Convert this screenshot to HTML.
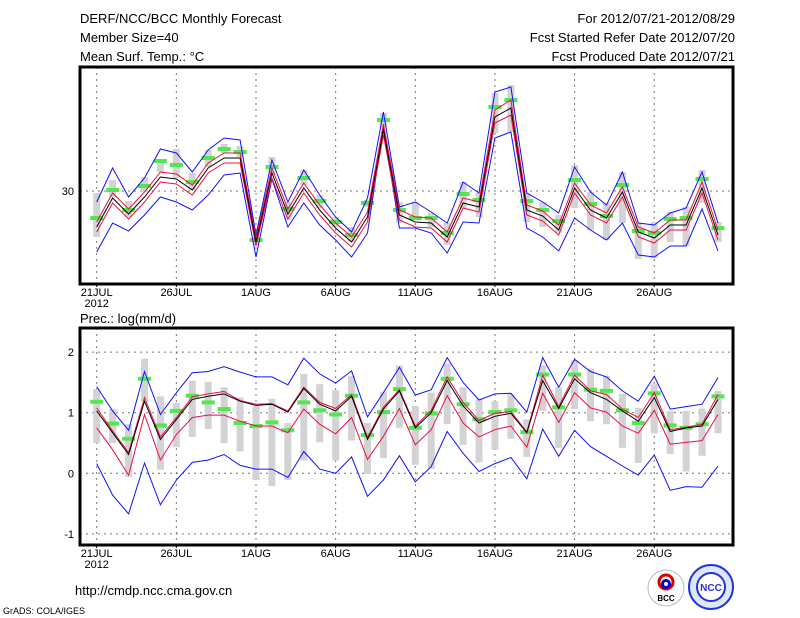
<!DOCTYPE html>
<html><head><meta charset="utf-8"><style>
body{margin:0;background:#fff;}
svg text{font-family:"Liberation Sans",sans-serif;}
</style></head><body>
<svg id="chart" width="800" height="618" xmlns="http://www.w3.org/2000/svg" style="display:block">
<rect width="800" height="618" fill="#fff"/>
<g font-size="13" fill="#000">
<text x="80" y="23">DERF/NCC/BCC Monthly Forecast</text>
<text x="80" y="42">Member Size=40</text>
<text x="80" y="61">Mean Surf. Temp.: °C</text>
<text x="735" y="23" text-anchor="end">For 2012/07/21-2012/08/29</text>
<text x="735" y="42" text-anchor="end">Fcst Started Refer Date 2012/07/20</text>
<text x="735" y="61" text-anchor="end">Fcst Produced Date 2012/07/21</text>
<text x="80" y="323">Prec.: log(mm/d)</text>
<text x="75" y="595">http://cmdp.ncc.cma.gov.cn</text>
</g>
<text x="3" y="614" font-size="9">GrADS: COLA/IGES</text>
<g>
<circle cx="666" cy="588" r="18" fill="#fff" stroke="#bbb"/>
<circle cx="666" cy="582" r="7" fill="none" stroke="#d00" stroke-width="3"/>
<circle cx="666" cy="584" r="3.5" fill="none" stroke="#00c" stroke-width="3"/>
<text x="666" y="601" font-size="8" text-anchor="middle" font-family="Liberation Serif" font-weight="bold">BCC</text>
</g>
<g>
<circle cx="711" cy="587" r="22" fill="#dde8ff" stroke="#2233dd" stroke-width="2"/>
<circle cx="711" cy="587" r="14" fill="#fff" stroke="#2233dd" stroke-width="2"/>
<text x="711" y="591" font-size="10" text-anchor="middle" fill="#2233dd" font-weight="bold">NCC</text>
</g>
<g id="top"></g>
<g id="bot"></g>
</svg>
<script>
const days = ["21JUL","26JUL","1AUG","6AUG","11AUG","16AUG","21AUG","26AUG"];
const tMean = [26.4,29.3,27.7,29.4,31.4,31.2,30.1,32.3,33.3,33.3,24.9,31.8,27.7,30.3,28.1,26.3,24.9,27.4,36.1,27.6,26.9,26.8,25.4,28.8,28.4,37.4,38.3,28.1,27.5,26.1,30.3,28.1,27.3,29.9,25.9,25.3,26.6,26.6,30.3,25.6];
const tRedHi = [26.9,29.8,28.2,29.9,31.9,31.7,30.6,32.8,33.8,33.8,25.3,32.3,28.2,30.8,28.6,26.8,25.4,27.9,36.7,28.1,27.4,27.3,25.9,29.3,28.9,38.1,39.1,28.6,28.0,26.6,30.8,28.6,27.8,30.4,26.4,25.8,27.1,27.1,30.9,26.1];
const tRedLo = [25.9,28.8,27.2,28.9,30.9,30.7,29.6,31.8,32.8,32.8,24.5,31.3,27.2,29.8,27.6,25.8,24.4,26.9,35.6,27.1,26.4,26.3,24.9,28.3,27.9,36.8,37.6,27.6,27.0,25.6,29.8,27.6,26.8,29.4,25.4,24.8,26.1,26.1,29.8,25.1];
const tBlueHi = [28.9,32.3,29.4,31.3,34.2,33.8,31.9,34.1,35.3,35.1,25.6,33.1,28.9,32.1,29.6,27.4,25.9,29.3,37.9,28.4,28.9,27.9,26.8,30.9,29.8,39.9,40.4,29.8,28.9,27.8,32.4,29.9,28.6,31.9,26.8,26.6,27.8,28.3,31.9,26.8];
const tBlueLo = [23.9,26.8,26.0,27.6,29.4,28.9,28.1,29.6,31.6,31.8,23.4,31.2,26.4,28.8,26.6,25.1,23.4,25.8,36.4,26.3,26.3,25.8,23.8,26.9,26.8,35.3,35.9,26.3,25.4,24.0,27.3,26.1,25.1,26.8,23.6,23.4,24.5,24.5,28.2,24.0];
const tGreen = [27.3,30.1,28.1,30.5,33.0,32.6,30.9,33.3,34.2,33.9,25.1,32.4,28.2,31.3,29.0,26.9,25.6,28.8,37.1,28.1,27.3,27.3,25.8,29.7,29.1,38.4,39.1,29.0,28.1,27.0,31.1,28.7,27.5,30.6,26.0,25.8,27.2,27.3,31.2,26.3];
const tGrayHi = [29.8,31.1,29.0,31.4,33.1,34.2,31.8,34.1,34.7,34.5,25.4,33.4,28.9,32.1,29.6,27.4,26.4,29.1,37.8,28.9,28.9,27.8,26.8,30.9,29.8,39.8,40.6,29.8,28.9,27.6,32.6,29.9,28.8,31.9,26.8,26.9,27.9,28.4,32.1,26.9];
const tGrayLo = [25.4,29.4,27.4,29.9,31.9,31.3,30.1,32.4,33.8,33.4,24.6,31.6,27.1,30.6,28.3,26.4,24.9,28.4,36.4,26.8,27.1,26.4,24.6,28.3,27.4,35.8,35.9,26.9,26.4,25.8,28.3,26.1,25.1,26.8,23.2,23.3,24.9,24.5,28.8,24.9];

const pMean = [1.03,0.67,0.31,1.19,0.56,0.89,1.22,1.27,1.31,1.19,1.12,1.14,1.01,1.40,1.14,1.03,1.27,0.56,1.06,1.36,0.75,1.00,1.53,1.11,0.83,0.94,0.99,0.67,1.53,1.07,1.56,1.33,1.22,1.03,0.86,1.25,0.69,0.75,0.78,1.22];
const pRedHi = [1.08,0.70,0.34,1.25,0.60,0.92,1.26,1.31,1.35,1.20,1.14,1.15,1.03,1.42,1.17,1.07,1.30,0.59,1.09,1.38,0.78,1.04,1.59,1.17,0.87,0.99,1.02,0.68,1.62,1.10,1.62,1.36,1.30,1.06,0.92,1.33,0.72,0.76,0.81,1.30];
const pRedLo = [0.75,0.39,-0.03,0.97,0.22,0.64,0.92,0.96,0.96,0.86,0.78,0.78,0.67,1.06,0.81,0.65,0.92,0.23,0.61,1.07,0.47,0.72,1.28,0.83,0.60,0.72,0.78,0.43,1.32,0.84,1.33,1.08,1.01,0.78,0.66,1.04,0.48,0.51,0.54,0.97];
const pBlueHi = [1.43,1.03,0.71,1.68,0.97,1.33,1.66,1.68,1.76,1.67,1.59,1.59,1.46,1.90,1.64,1.49,1.69,0.93,1.33,1.75,1.29,1.38,1.91,1.50,1.21,1.31,1.32,1.01,1.91,1.42,1.88,1.68,1.59,1.36,1.19,1.60,1.06,1.10,1.14,1.58];
const pBlueLo = [0.16,-0.36,-0.67,0.17,-0.52,-0.11,0.18,0.22,0.31,0.13,0.07,0.07,-0.07,0.36,0.07,0.00,0.27,-0.38,-0.11,0.29,-0.14,0.11,0.69,0.33,0.03,0.16,0.26,-0.09,0.73,0.28,0.71,0.44,0.28,0.12,-0.03,0.30,-0.28,-0.22,-0.23,0.12];
const pGreen = [1.18,0.82,0.57,1.56,0.79,1.03,1.28,1.17,1.06,0.83,0.78,0.84,0.71,1.17,1.04,0.97,1.28,0.63,1.01,1.39,0.75,0.99,1.56,1.14,0.89,1.01,1.04,0.68,1.63,1.09,1.63,1.38,1.36,1.04,0.83,1.32,0.79,0.75,0.81,1.27];
const pGrayHi = [1.39,1.06,0.81,1.89,1.27,1.16,1.53,1.51,1.42,1.25,1.11,1.23,0.83,1.64,1.47,1.37,1.61,0.83,1.34,1.78,1.11,1.33,1.81,1.42,1.22,1.19,1.31,0.89,1.78,1.42,1.86,1.73,1.61,1.31,1.08,1.47,1.03,1.03,1.07,1.36];
const pGrayLo = [0.50,0.50,-0.06,1.19,0.06,0.43,0.60,0.73,0.50,0.36,-0.11,-0.21,-0.11,0.21,0.51,0.21,0.54,-0.01,0.25,0.75,0.14,0.07,0.81,0.47,0.18,0.39,0.57,0.27,1.03,0.42,1.06,0.86,0.81,0.42,0.17,0.66,0.32,0.03,0.29,0.66];
const pTicks = [-1,0,1,2];

const NS="http://www.w3.org/2000/svg";
const X0=96.7, DX=15.93;
function xS(i){return X0+DX*i;}
function yT(v){return 191-(v-30)*10;}
function yP(v){return 473.3-v*60.6;}
function mk(parent,tag,attrs){const e=document.createElementNS(NS,tag);for(const k in attrs)e.setAttribute(k,attrs[k]);parent.appendChild(e);return e;}

function panel(g,name,top,bot,yF,mean,rHi,rLo,bHi,bLo,green,gHi,gLo,yticks){
  days.forEach((d,k)=>{
    const x=xS(k*5);
    const l=mk(g,'line',{x1:x,x2:x,y1:top,y2:bot,stroke:'#777','stroke-dasharray':'2,4'});
    
    
    const t=mk(g,'text',{x:x,y:bot+12,'font-size':'11','text-anchor':'middle'});
    t.textContent=d;
    
    
    const tk=mk(g,'line',{x1:x,x2:x,y1:bot,y2:bot+3,stroke:'#000'});
    
    
  });
  const yr=mk(g,'text',{x:xS(0),y:bot+23,'font-size':'11','text-anchor':'middle'});
  yr.textContent='2012';
  
  
  yticks.forEach(v=>{
    const y=yF(v);
    const l=mk(g,'line',{x1:80,x2:733,y1:y,y2:y,stroke:'#777','stroke-dasharray':'2,4'});
    
    
    const t=mk(g,'text',{x:74,y:y+4,'font-size':'11','text-anchor':'end'});
    t.textContent=String(v);
    
    
  });
  for(let i=0;i<mean.length;i++){
    const y1=yF(gHi[i]),y2=yF(gLo[i]);
    const r=mk(g,'rect',{x:xS(i)-3.5,y:Math.min(y1,y2),width:7,height:Math.abs(y2-y1),fill:'#d3d3d6'});
    
    
  }
  for(let i=0;i<mean.length;i++){
    const r=mk(g,'rect',{x:xS(i)-6.5,y:yF(green[i])-2,width:13,height:4,fill:'#50e850'});
    
    
  }
  const line=(arr,col,nm)=>{
    const p=mk(g,'polyline',{points:arr.map((v,i)=>xS(i).toFixed(1)+','+yF(v).toFixed(1)).join(' '),fill:'none',stroke:col,'stroke-width':1});
    
    
  };
  line(bHi,'#1010ff','blue-upper-line');
  line(bLo,'#1010ff','blue-lower-line');
  line(rHi,'#ee1040','red-upper-line');
  line(rLo,'#ee1040','red-lower-line');
  line(mean,'#000','ensemble-mean-line');
  const fr=mk(g,'rect',{x:80,y:top,width:653,height:bot-top,fill:'none',stroke:'#000','stroke-width':3});
  
  
}
panel(document.getElementById('top'),'temp-panel',67,284,yT,tMean,tRedHi,tRedLo,tBlueHi,tBlueLo,tGreen,tGrayHi,tGrayLo,[30]);
panel(document.getElementById('bot'),'prec-panel',328,545,yP,pMean,pRedHi,pRedLo,pBlueHi,pBlueLo,pGreen,pGrayHi,pGrayLo,pTicks);
</script>
</body></html>
